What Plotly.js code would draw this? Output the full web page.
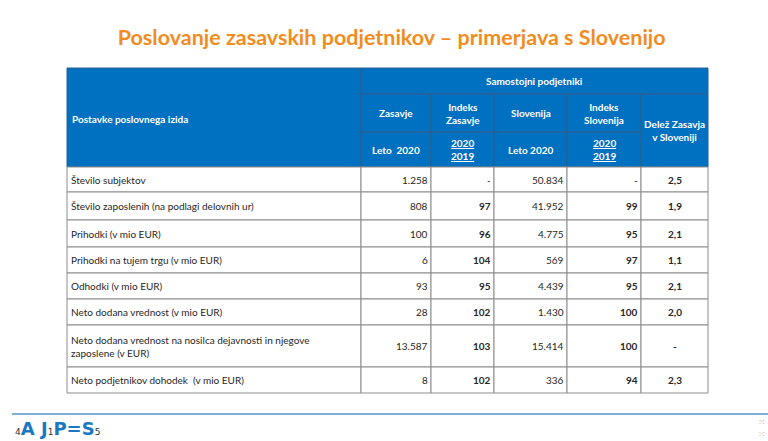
<!DOCTYPE html>
<html>
<head>
<meta charset="utf-8">
<script src="https://cdn.plot.ly/plotly-3.0.1.min.js"></script>
<style>
  html, body { margin: 0; padding: 0; background: #fff; }
  #chart { width: 768px; height: 441px; }
</style>
</head>
<body>
<div id="chart"></div>
<script>
const rowLabels = [
  "Število subjektov",
  "Število zaposlenih (na podlagi delovnih ur)",
  "Prihodki (v mio EUR)",
  "Prihodki na tujem trgu (v mio EUR)",
  "Odhodki (v mio EUR)",
  "Neto dodana vrednost (v mio EUR)",
  "Neto dodana vrednost na nosilca dejavnosti in njegove<br>zaposlene (v EUR)",
  "Neto podjetnikov dohodek  (v mio EUR)",
];
const zasavje2020 = [1258, 808, 100, 6, 93, 28, 13587, 8];
const indeksZasavje = [null, 97, 96, 104, 95, 102, 103, 102];
const slovenija2020 = [50834, 41952, 4775, 569, 4439, 1430, 15414, 336];
const indeksSlovenija = [null, 99, 95, 97, 95, 100, 100, 94];
const delezZasavja = [2.5, 1.9, 2.1, 1.1, 2.1, 2.0, null, 2.3];

const chartTitle = "Poslovanje zasavskih podjetnikov – primerjava s Slovenijo";

// table geometry (axis units = pixels)
const colEdges = [67, 361, 431, 494, 567, 641, 708];
const headTop = 68, headRow1 = 94, headRow2 = 132, headBottom = 167;
const rowEdges = [167, 192, 220, 247, 273, 299, 325, 367, 393];

const blue = "#0070c0";
const headLine = "#2f5f8f";
const gridLine = "#8c8c8c";
const textColor = "#262626";
const font = "Lato, 'Open Sans', sans-serif";

function fmtInt(v) {
  if (v === null) return "-";
  return String(v).replace(/\B(?=(\d{3})+(?!\d))/g, ".");
}
function fmtDec(v) {
  if (v === null) return "-";
  return v.toFixed(1).replace(".", ",");
}

const shapes = [];
const annotations = [];

function cell(x0, x1, y0, y1, fill, line) {
  shapes.push({
    type: "rect", xref: "x", yref: "y", x0, x1, y0, y1,
    fillcolor: fill, line: { color: line, width: 1 }, layer: "below",
  });
}
function label(x, y, text, opts = {}) {
  annotations.push({
    xref: "x", yref: "y", x, y, text, showarrow: false,
    xanchor: opts.anchor || "center", yanchor: "middle",
    align: opts.anchor === "left" ? "left" : (opts.anchor === "right" ? "right" : "center"),
    font: { family: font, size: opts.size || 10, color: opts.color || textColor },
  });
}

// header cells
cell(colEdges[0], colEdges[1], headTop, headBottom, blue, headLine);
label(colEdges[0] + 3, (headTop + headBottom) / 2 + 1, "<b>Postavke poslovnega izida</b>", { anchor: "left", color: "#fff" });
cell(colEdges[1], colEdges[6], headTop, headRow1, blue, headLine);
label((colEdges[1] + colEdges[6]) / 2, (headTop + headRow1) / 2, "<b>Samostojni podjetniki</b>", { color: "#fff" });

const subHeads = ["<b>Zasavje</b>", "<b>Indeks<br>Zasavje</b>", "<b>Slovenija</b>", "<b>Indeks<br>Slovenija</b>"];
const yearHeads = ["<b>Leto  2020</b>", "<b><u>2020</u><br><u>2019</u></b>", "<b>Leto 2020</b>", "<b><u>2020</u><br><u>2019</u></b>"];
for (let i = 0; i < 4; i++) {
  const x0 = colEdges[i + 1], x1 = colEdges[i + 2];
  cell(x0, x1, headRow1, headRow2, blue, headLine);
  cell(x0, x1, headRow2, headBottom, blue, headLine);
  label((x0 + x1) / 2, (headRow1 + headRow2) / 2, subHeads[i], { color: "#fff" });
  label((x0 + x1) / 2, (headRow2 + headBottom) / 2, yearHeads[i], { color: "#fff" });
}
cell(colEdges[5], colEdges[6], headRow1, headBottom, blue, headLine);
label((colEdges[5] + colEdges[6]) / 2, (headRow1 + headBottom) / 2, "<b>Delež Zasavja<br>v Sloveniji</b>", { color: "#fff" });

// body cells
const columns = [
  { values: zasavje2020.map(fmtInt), bold: false, anchor: "right" },
  { values: indeksZasavje.map(fmtInt), bold: true, anchor: "right", plainDash: true },
  { values: slovenija2020.map(fmtInt), bold: false, anchor: "right" },
  { values: indeksSlovenija.map(fmtInt), bold: true, anchor: "right", plainDash: true },
  { values: delezZasavja.map(fmtDec), bold: true, anchor: "center" },
];
rowLabels.forEach((name, r) => {
  const y0 = rowEdges[r], y1 = rowEdges[r + 1], ym = (y0 + y1) / 2;
  cell(colEdges[0], colEdges[1], y0, y1, "#fff", gridLine);
  label(colEdges[0] + 2, ym, name, { anchor: "left" });
  columns.forEach((col, c) => {
    const x0 = colEdges[c + 1], x1 = colEdges[c + 2];
    cell(x0, x1, y0, y1, "#fff", gridLine);
    let txt = col.values[r];
    if (col.bold && !(col.plainDash && txt === "-")) txt = "<b>" + txt + "</b>";
    const x = col.anchor === "right" ? x1 - 1 : (x0 + x1) / 2;
    label(x, ym, txt, { anchor: col.anchor });
  });
});

// footer line and logo
shapes.push({
  type: "line", xref: "x", yref: "y", x0: 12, x1: 768, y0: 414, y1: 414,
  line: { color: "#7fb0d6", width: 2 },
});
annotations.push({
  xref: "x", yref: "y", x: 13, y: 428, xanchor: "left", yanchor: "middle", showarrow: false,
  text: "<span style='font-size:9px;color:#333;font-weight:normal'>4</span><b>A J</b><span style='font-size:9px;color:#333'>1</span><b>P=S</b><span style='font-size:9px;color:#333'>5</span>",
  font: { family: "'DejaVu Sans', sans-serif", size: 18, color: "#1a78c2" },
});
annotations.push({
  xref: "x", yref: "y", x: 768, y: 428, xanchor: "right", yanchor: "middle", showarrow: false,
  text: "⁙<br>⁙", font: { family: "'DejaVu Sans', sans-serif", size: 9, color: "#f5b27a" },
});

const layout = {
  width: 768,
  height: 441,
  margin: { l: 0, r: 0, t: 0, b: 0 },
  paper_bgcolor: "#fff",
  plot_bgcolor: "#fff",
  showlegend: false,
  title: {
    text: "<b>" + chartTitle + "</b>",
    x: 0.51, xanchor: "center", y: 0.915, yanchor: "middle",
    font: { family: font, size: 21.5, color: "#f28c1e" },
  },
  xaxis: { range: [0, 768], visible: false, fixedrange: true },
  yaxis: { range: [441, 0], visible: false, fixedrange: true },
  shapes,
  annotations,
};

Plotly.newPlot("chart", [{ type: "scatter", x: [], y: [], hoverinfo: "skip" }], layout, {
  displayModeBar: false,
  staticPlot: true,
});
</script>
</body>
</html>
